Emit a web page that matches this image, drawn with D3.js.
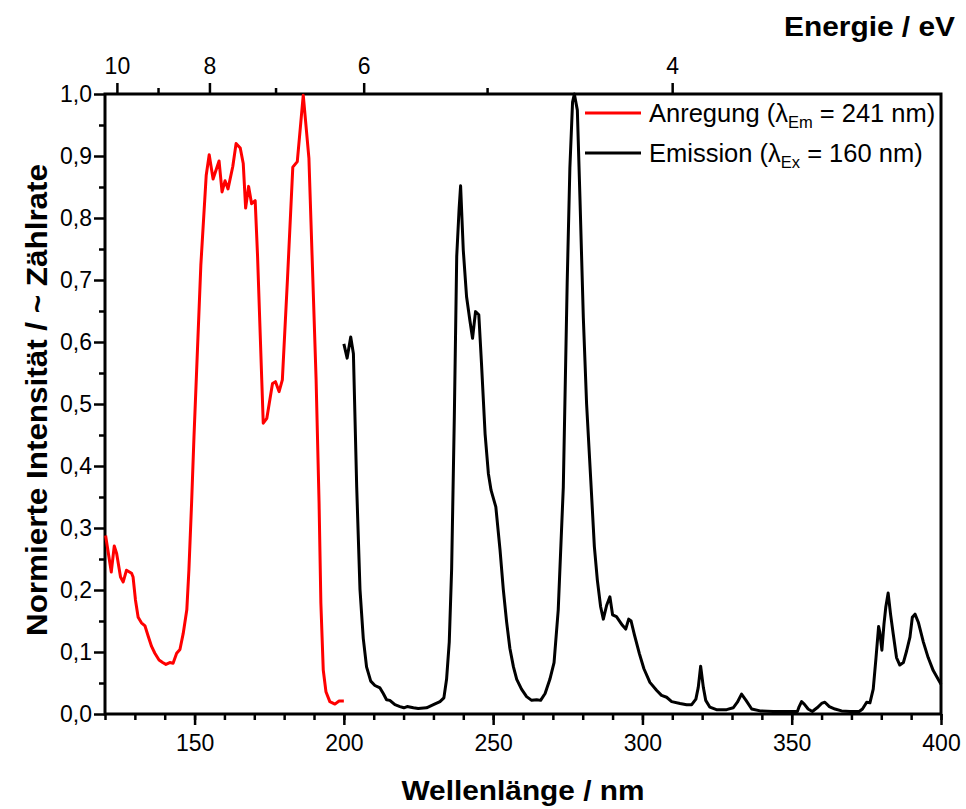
<!DOCTYPE html>
<meta charset="utf-8">
<script src="https://d3js.org/d3.v7.min.js"></script>
<style>
  body { margin: 0; background: #fff; }
  text { font-family: "Liberation Sans", Arial, sans-serif; fill: #000; }
</style>
<body>
<div id="chart"></div>
<script>
// excitation spectrum (red), wavelength in nm
const exWl = [120.2,122.1,123.1,123.9,125.2,126.1,127.2,128.9,129.4,130.2,131.1,132.2,133.4,134.5,135.6,136.7,138.1,139.3,140.4,141.7,142.8,144.0,145.1,146.2,147.4,148.1,149.0,149.8,150.7,152.1,153.9,154.9,156.2,158.2,159.2,160.2,161.2,162.8,163.9,165.3,166.3,167.1,168.1,169.1,170.3,171.1,172.5,173.0,174.2,176.1,177.1,178.3,179.4,181.1,182.9,184.4,186.4,188.3,190.7,191.7,192.3,193.1,194.0,195.3,197.0,198.4,200.0];
const exVal = [0.288,0.229,0.271,0.259,0.221,0.213,0.232,0.227,0.221,0.184,0.156,0.147,0.142,0.125,0.109,0.098,0.087,0.083,0.080,0.083,0.082,0.098,0.104,0.130,0.168,0.232,0.340,0.447,0.555,0.724,0.869,0.902,0.863,0.892,0.842,0.860,0.847,0.883,0.920,0.913,0.888,0.816,0.851,0.823,0.828,0.738,0.539,0.469,0.477,0.533,0.536,0.520,0.539,0.700,0.882,0.891,0.998,0.896,0.540,0.340,0.179,0.071,0.036,0.020,0.016,0.021,0.021];

// emission spectrum (black)
const emWl = [200.0,201.1,202.3,203.2,204.3,205.4,206.5,207.6,209.0,210.4,212.1,213.2,214.3,215.4,217.1,218.8,220.1,221.2,223.3,224.9,227.7,230.0,232.2,233.5,234.4,235.3,236.1,237.0,237.8,238.6,239.1,240.0,241.1,242.2,243.1,244.1,245.2,246.1,247.3,248.4,249.3,250.9,252.3,253.4,254.5,255.6,256.8,257.9,259.5,261.2,262.9,264.6,265.9,267.4,269.0,270.4,271.8,273.5,274.8,275.7,276.6,277.2,278.2,279.1,280.2,281.3,282.7,283.9,284.9,286.0,286.9,288.0,289.1,290.0,291.3,293.3,294.4,295.4,296.2,297.3,299.0,300.5,302.5,304.8,306.4,308.1,309.8,312.6,314.8,316.5,317.9,318.7,319.5,320.4,321.2,322.6,324.8,328.2,330.4,331.8,333.2,334.7,336.6,339.4,343.8,348.3,351.9,352.5,353.3,354.2,355.5,356.9,358.5,360.0,361.1,362.6,364.5,366.7,369.5,372.6,373.7,375.1,376.2,377.3,378.2,379.1,379.5,380.2,380.9,381.5,382.3,383.1,384.0,385.1,386.2,387.4,388.5,389.6,390.4,391.3,392.4,394.1,395.7,397.4,400.0];
const emVal = [0.597,0.574,0.608,0.581,0.366,0.201,0.122,0.076,0.053,0.046,0.042,0.033,0.023,0.022,0.015,0.012,0.010,0.012,0.010,0.009,0.010,0.015,0.020,0.026,0.056,0.116,0.234,0.480,0.738,0.815,0.852,0.748,0.673,0.635,0.606,0.649,0.644,0.565,0.452,0.388,0.361,0.334,0.265,0.201,0.149,0.106,0.076,0.056,0.040,0.028,0.022,0.023,0.022,0.033,0.056,0.083,0.168,0.366,0.696,0.881,0.987,1.0,0.974,0.828,0.640,0.500,0.377,0.270,0.216,0.173,0.153,0.175,0.189,0.160,0.157,0.143,0.137,0.153,0.150,0.128,0.097,0.073,0.051,0.038,0.030,0.027,0.020,0.017,0.015,0.015,0.024,0.043,0.077,0.043,0.022,0.011,0.007,0.007,0.010,0.019,0.032,0.022,0.008,0.005,0.004,0.004,0.004,0.012,0.020,0.016,0.008,0.004,0.010,0.017,0.019,0.012,0.008,0.005,0.004,0.004,0.008,0.019,0.018,0.040,0.089,0.141,0.132,0.103,0.145,0.172,0.195,0.161,0.129,0.091,0.079,0.083,0.102,0.124,0.156,0.161,0.148,0.116,0.091,0.070,0.048];

// axis tick values
const wlMajor = [150, 200, 250, 300, 350, 400];
const wlMinor = d3.range(120, 401, 10);
const yMajor = d3.range(0, 1.01, 0.1);
const yMinor = d3.range(0.05, 1, 0.1);
const eMajor = [10, 8, 6, 4];
const eMinor = [9, 7, 5];
const hc = 1239.84; // eV*nm

const W = 966, H = 809;
const margin = {top: 94, right: 25, bottom: 95, left: 105};
const width = W - margin.left - margin.right,
      height = H - margin.top - margin.bottom;

const svg = d3.select("#chart").append("svg")
  .attr("width", W).attr("height", H);
const g = svg.append("g")
  .attr("transform", `translate(${margin.left},${margin.top})`);

const x = d3.scaleLinear().domain([120, 400]).range([0, width]);
const y = d3.scaleLinear().domain([0, 1]).range([height, 0]);

const comma = d => d3.format(".1f")(d).replace(".", ",");

function styleAxis(sel) {
  sel.select(".domain").remove();
  sel.selectAll(".tick line").attr("stroke", "#000").attr("stroke-width", 2.5);
  sel.selectAll(".tick text").style("font-size", "23px");
}

// minor ticks
g.append("g").attr("transform", `translate(0,${height})`)
  .call(d3.axisBottom(x).tickValues(wlMinor).tickSize(6).tickFormat(""))
  .call(styleAxis);
g.append("g")
  .call(d3.axisLeft(y).tickValues(yMinor).tickSize(6).tickFormat(""))
  .call(styleAxis);
g.append("g")
  .call(d3.axisTop(x).tickValues(eMinor.map(e => hc / e)).tickSize(6).tickFormat(""))
  .call(styleAxis);

// major ticks
g.append("g").attr("transform", `translate(0,${height})`)
  .call(d3.axisBottom(x).tickValues(wlMajor).tickSize(11).tickPadding(10))
  .call(styleAxis);
g.append("g")
  .call(d3.axisLeft(y).tickValues(yMajor).tickSize(11).tickPadding(2).tickFormat(comma))
  .call(styleAxis);
g.append("g")
  .call(d3.axisTop(x).tickValues(eMajor.map(e => hc / e)).tickSize(11).tickPadding(9)
    .tickFormat(v => Math.round(hc / v)))
  .call(styleAxis);

// frame
g.append("rect")
  .attr("x", 0).attr("y", 0).attr("width", width).attr("height", height)
  .attr("fill", "none").attr("stroke", "#000").attr("stroke-width", 3);

// curves
const line = d3.line().x(d => x(d[0])).y(d => y(d[1]));
g.append("path")
  .datum(d3.zip(exWl, exVal))
  .attr("fill", "none").attr("stroke", "#ff0000").attr("stroke-width", 3)
  .attr("stroke-linejoin", "round").attr("d", line);
g.append("path")
  .datum(d3.zip(emWl, emVal))
  .attr("fill", "none").attr("stroke", "#000").attr("stroke-width", 3)
  .attr("stroke-linejoin", "round").attr("d", line);

// axis titles
svg.append("text")
  .attr("x", 523).attr("y", 800)
  .attr("text-anchor", "middle")
  .attr("textLength", 243).attr("lengthAdjust", "spacingAndGlyphs")
  .style("font-size", "28px").style("font-weight", "bold")
  .text("Wellenlänge / nm");
svg.append("text")
  .attr("transform", `translate(47,400) rotate(-90)`)
  .attr("text-anchor", "middle")
  .attr("textLength", 472).attr("lengthAdjust", "spacingAndGlyphs")
  .style("font-size", "29px").style("font-weight", "bold")
  .text("Normierte Intensität / ~ Zählrate");
svg.append("text")
  .attr("x", 955).attr("y", 36)
  .attr("text-anchor", "end")
  .attr("textLength", 171).attr("lengthAdjust", "spacingAndGlyphs")
  .style("font-size", "28px").style("font-weight", "bold")
  .text("Energie / eV");

// legend
const legend = [
  {color: "#ff0000", name: "Anregung (λ", sub: "Em", rest: " = 241 nm)", yy: 113},
  {color: "#000", name: "Emission (λ", sub: "Ex", rest: " = 160 nm)", yy: 153}
];
legend.forEach(l => {
  svg.append("line")
    .attr("x1", 585).attr("x2", 641).attr("y1", l.yy).attr("y2", l.yy)
    .attr("stroke", l.color).attr("stroke-width", 3);
  const t = svg.append("text")
    .attr("x", 649).attr("y", l.yy + 9)
    .style("font-size", "25.5px");
  t.append("tspan").text(l.name);
  t.append("tspan").attr("dy", 6).style("font-size", "16.5px").text(l.sub);
  t.append("tspan").attr("dy", -6).text(l.rest);
});
</script>
</body>
